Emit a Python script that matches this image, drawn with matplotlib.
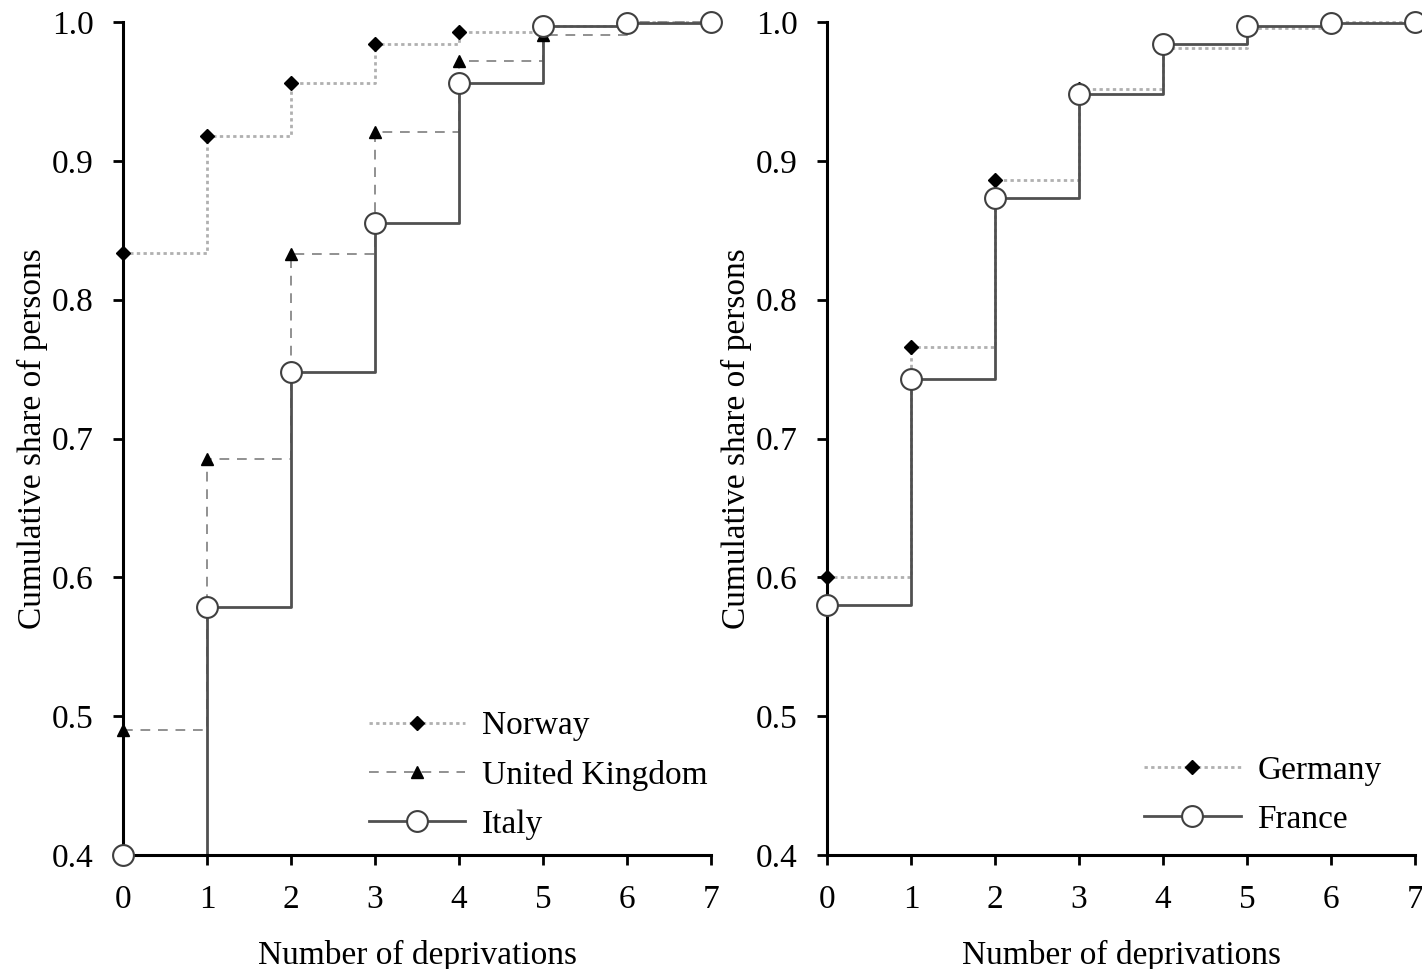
import matplotlib.pyplot as plt

plt.rcParams['font.family'] = ['Liberation Serif', 'DejaVu Serif']

deprivations = [0, 1, 2, 3, 4, 5, 6, 7]

norway = [0.834, 0.918, 0.956, 0.984, 0.993, 0.997, 1.0, 1.0]
united_kingdom = [0.490, 0.685, 0.833, 0.921, 0.972, 0.991, 1.0, 1.0]
italy = [0.400, 0.579, 0.748, 0.855, 0.956, 0.997, 0.999, 1.0]

germany = [0.600, 0.766, 0.886, 0.952, 0.981, 0.996, 1.0, 1.0]
france = [0.580, 0.743, 0.873, 0.948, 0.984, 0.997, 0.999, 1.0]

y_ticks = [0.4, 0.5, 0.6, 0.7, 0.8, 0.9, 1.0]

fig = plt.figure(figsize=(14.22, 9.69), dpi=100)
ax1 = fig.add_axes([0.0865, 0.1176, 0.4135, 0.8596])
ax2 = fig.add_axes([0.5816, 0.1176, 0.4135, 0.8596])

styles = {
    'dotted': dict(color='#b0b0b0', linestyle=(0, (1.2, 1.2)), linewidth=2.0,
                   marker='D', markersize=7, markerfacecolor='black', markeredgecolor='black'),
    'dashed': dict(color='#909090', linestyle=(0, (5, 4)), linewidth=1.4,
                   marker='^', markersize=9, markerfacecolor='black', markeredgecolor='black'),
    'solid': dict(color='#505050', linestyle='-', linewidth=2.0,
                  marker='o', markersize=15, markerfacecolor='white', markeredgecolor='#404040',
                  markeredgewidth=1.5),
}

FS = 24


def draw(ax, series):
    handles = []
    for name, vals, st in series:
        s = styles[st]
        ax.step(deprivations, vals, where='post', color=s['color'], linestyle=s['linestyle'],
                linewidth=s['linewidth'], clip_on=False, zorder=2)
        ax.plot(deprivations, vals, linestyle='none', marker=s['marker'], markersize=s['markersize'],
                markerfacecolor=s['markerfacecolor'], markeredgecolor=s['markeredgecolor'],
                markeredgewidth=s.get('markeredgewidth', 1), clip_on=False, zorder=3)
        h, = ax.plot([], [], **s, label=name)
        handles.append(h)
    ax.set_xlim(0, 7)
    ax.set_ylim(0.4, 1.0)
    ax.set_xticks(deprivations)
    ax.set_yticks(y_ticks)
    ax.set_yticklabels([f'{t:.1f}' for t in y_ticks])
    for side in ['top', 'right']:
        ax.spines[side].set_visible(False)
    for side in ['left', 'bottom']:
        ax.spines[side].set_linewidth(2.2)
    ax.tick_params(direction='out', length=7, width=2, labelsize=FS)
    ax.tick_params(axis='x', pad=14)
    ax.tick_params(axis='y', pad=14)
    ax.set_xlabel('Number of deprivations', fontsize=FS, labelpad=18)
    ax.set_ylabel('Cumulative share of persons', fontsize=FS, labelpad=3)
    return handles


h1 = draw(ax1, [('Norway', norway, 'dotted'),
                ('United Kingdom', united_kingdom, 'dashed'),
                ('Italy', italy, 'solid')])
ax1.legend(handles=h1, loc='lower right', frameon=False, fontsize=FS, handlelength=2.9,
           labelspacing=0.56, handletextpad=0.5, bbox_to_anchor=(1.045, -0.018))

h2 = draw(ax2, [('Germany', germany, 'dotted'),
                ('France', france, 'solid')])
ax2.legend(handles=h2, loc='lower right', frameon=False, fontsize=FS, handlelength=2.9,
           labelspacing=0.56, handletextpad=0.5, bbox_to_anchor=(0.994, -0.012))

fig.savefig('out.png', dpi=100)
